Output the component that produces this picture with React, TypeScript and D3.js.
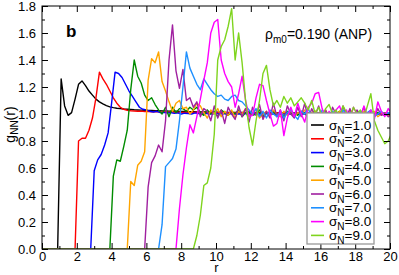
import React, { useEffect, useRef } from "react";
import * as d3 from "d3";

const WIDTH = 399;
const HEIGHT = 275;
const FONT = "'Liberation Sans', Arial, Helvetica, sans-serif";

// r grid step of the histograms, and the r where each curve leaves zero
const R_STEP = 0.2;
const SIGMA_LABELS = ["1.0", "2.0", "3.0", "4.0", "5.0", "6.0", "7.0", "8.0", "9.0"];
const SERIES_START = [0.9, 1.9, 2.8, 3.9, 4.9, 5.9, 6.7, 7.7, 8.7];
const COLORS = ["#000000", "#ff0000", "#0000ff", "#008c00", "#ffa500", "#a020a0", "#1e90ff", "#ff00ff", "#7fd41e"];

const G_S1 = [
  0, 1.26, 1.06, 0.99, 1.01, 1.11, 1.22, 1.245, 1.21, 1.17,
  1.14, 1.11, 1.09, 1.075, 1.062, 1.053, 1.047, 1.043, 1.04, 1.037,
  1.035, 1.033, 1.031, 1.03, 1.029, 1.028, 1.027, 1.026, 1.025, 1.024,
  1.023, 1.022, 1.021, 1.021, 1.02, 1.019, 1.019, 1.018, 1.017, 1.017,
  1.016, 1.016, 1.015, 1.015, 1.014, 1.014, 1.013, 1.013, 1.012, 1.012,
  1.012, 1.011, 1.011, 1.011, 1.01, 1.01, 1.01, 1.01, 1.009, 1.009,
  1.009, 1.009, 1.008, 1.008, 1.008, 1.008, 1.008, 1.007, 1.007, 1.007,
  1.007, 1.007, 1.007, 1.006, 1.006, 1.006, 1.006, 1.006, 1.006, 1.006,
  1.005, 1.005, 1.005, 1.005, 1.005, 1.005, 1.005, 1.005, 1.005, 1.005,
  1.005, 1.005, 1.005, 1.005, 1.005, 1.005, 1.005,
];
const G_S2 = [
  0, 0.8, 0.82, 0.82, 0.88, 0.97, 1.12, 1.31, 1.26, 1.22,
  1.17, 1.12, 1.08, 1.05, 1.035, 1.028, 1.024, 1.022, 1.02, 1.021,
  1.018, 1.019, 1.017, 1.018, 1.016, 1.015, 1.016, 1.014, 1.015, 1.013,
  1.014, 1.012, 1.013, 1.012, 1.011, 1.012, 1.011, 1.01, 1.011, 1.01,
  1.01, 1.009, 1.01, 1.009, 1.009, 1.008, 1.009, 1.008, 1.008, 1.009,
  1.007, 1.008, 1.007, 1.007, 1.008, 1.006, 1.007, 1.006, 1.007, 1.006,
  1.006, 1.005, 1.006, 1.005, 1.006, 1.005, 1.005, 1.006, 1.005, 1.004,
  1.005, 1.005, 1.004, 1.005, 1.004, 1.005, 1.004, 1.004, 1.005, 1.004,
  1.004, 1.004, 1.005, 1.004, 1.004, 1.003, 1.004, 1.004, 1.003, 1.004,
  1.004, 1.003,
];
const G_S3 = [
  0, 0.58, 0.66, 0.7, 0.77, 0.86, 1.08, 1.31, 1.3, 1.27,
  1.22, 1.17, 1.13, 1.09, 1.05, 1.035, 1.03, 1.02, 1.015, 1.02,
  1.01, 1.012, 1.008, 1.01, 1.005, 1.008, 1.0, 1.006, 1.004, 1.0,
  1.008, 1.003, 0.998, 1.005, 1.002, 1.0, 1.006, 0.999, 1.003, 1.0,
  1.004, 0.998, 1.002, 1.0, 1.005, 0.999, 1.001, 1.003, 0.998, 1.002,
  1.0, 1.004, 0.999, 1.001, 1.0, 0.997, 1.003, 1.0, 1.001, 0.998,
  1.002, 1.0, 1.003, 0.999, 1.0, 1.002, 0.998, 1.001, 1.0, 1.003,
  0.999, 1.0, 1.002, 0.998, 1.001, 1.0, 0.999, 1.002, 1.0, 1.001,
  0.998, 1.0, 1.002, 0.999, 1.001, 1.0, 1.0,
];
const G_S4 = [
  0, 0.54, 0.66, 0.65, 0.76, 0.88, 1.18, 1.4, 1.28, 1.23,
  1.14, 1.1, 1.12, 1.07, 1.03, 1.0, 1.05, 0.98, 1.05, 1.01,
  1.04, 1.04, 1.02, 1.05, 1.03, 1.05, 1.01, 0.99, 1.03, 1.0,
  1.02, 0.98, 1.03, 1.01, 0.99, 1.02, 1.0, 1.03, 0.98, 1.01,
  1.02, 0.99, 1.0, 1.03, 0.98, 1.01, 1.0, 1.02, 0.99, 1.01,
  0.98, 1.02, 1.0, 1.01, 0.99, 1.02, 1.0, 0.98, 1.01, 1.02,
  0.99, 1.0, 1.02, 0.98, 1.01, 1.0, 1.02, 0.99, 1.01, 1.0,
  0.98, 1.02, 1.01, 0.99, 1.0, 1.02, 0.99, 1.01, 1.0, 0.99,
  1.01, 1.0,
];
const G_S5 = [
  0, 0.5, 0.47, 0.62, 0.65, 0.72, 1.25, 1.41, 1.38, 1.46,
  1.24, 1.17, 1.09, 1.02, 1.08, 1.1, 1.04, 1.05, 1.0, 1.03,
  1.08, 1.06, 1.01, 0.97, 1.03, 1.0, 1.04, 0.98, 1.02, 0.99,
  1.03, 0.97, 1.02, 1.0, 1.04, 0.98, 1.01, 1.03, 0.97, 1.0,
  1.02, 0.98, 1.03, 1.0, 0.98, 1.02, 0.99, 1.03, 0.98, 1.01,
  1.0, 1.03, 0.97, 1.01, 1.02, 0.99, 1.0, 1.03, 0.98, 1.01,
  0.99, 1.02, 1.0, 0.98, 1.03, 1.0, 1.01, 0.98, 1.02, 0.99,
  1.01, 1.02, 0.98, 1.0, 1.01, 0.99, 1.0,
];
const G_S6 = [
  0, 0.46, 0.64, 0.69, 0.77, 0.72, 0.95, 1.4, 1.66, 1.32,
  1.19, 1.33, 1.1, 1.12, 1.05, 1.09, 0.98, 1.04, 1.02, 0.95,
  1.06, 0.97, 1.03, 0.93, 1.05, 1.0, 0.96, 1.06, 0.98, 1.04,
  0.94, 1.05, 0.99, 1.07, 0.96, 1.02, 0.97, 1.08, 0.98, 1.03,
  0.95, 1.06, 1.0, 0.97, 1.05, 0.98, 1.08, 0.96, 1.04, 0.99,
  1.06, 0.97, 1.03, 0.95, 1.05, 1.0, 0.97, 1.06, 0.98, 1.04,
  0.96, 1.03, 0.99, 1.05, 0.97, 1.02, 0.98, 1.04, 0.99, 1.01,
  0.98, 1.0,
];
const G_S7 = [
  0, 0.18, 0.61, 0.64, 0.67, 0.74, 0.95, 1.2, 1.46, 1.34,
  1.28, 1.22, 1.18, 1.26, 1.22, 1.18, 1.15, 1.13, 1.14, 1.11,
  1.1, 1.13, 1.14, 1.1, 1.09, 1.06, 1.03, 1.0, 1.04, 0.98,
  1.02, 0.97, 1.03, 1.0, 0.98, 1.02, 0.97, 1.01, 1.03, 0.99,
  0.96, 1.02, 1.0, 1.04, 0.98, 1.01, 0.97, 1.03, 1.0, 0.98,
  1.02, 1.0, 0.97, 1.03, 0.99, 1.01, 1.0, 0.98, 1.02, 0.99,
  1.01, 1.03, 0.98, 1.0, 1.02, 0.99, 1.01, 1.0,
];
const G_S8 = [
  0, 0.3, 0.55, 0.75, 0.92, 0.86, 0.98, 1.11, 1.25, 1.38,
  1.6, 1.68, 1.7, 1.4, 1.3, 1.24, 1.2, 1.05, 1.15, 1.28,
  1.1, 0.98, 0.99, 1.12, 1.22, 1.21, 1.1, 1.0, 0.91, 0.93,
  1.03, 0.84, 0.97, 1.05, 0.98, 1.08, 1.0, 0.94, 1.05, 1.08,
  1.15, 1.16, 1.04, 0.97, 1.02, 0.95, 1.03, 1.06, 0.98, 1.03,
  0.96, 1.05, 1.0, 0.97, 1.06, 0.99, 1.03, 0.96, 1.09, 1.02,
  0.98, 1.04, 1.0,
];
const G_S9 = [
  0, 0.1, 0.25, 0.47, 0.49, 0.6, 0.85, 1.4, 1.5, 1.55,
  1.65, 1.78, 1.4, 1.6, 1.38, 1.1, 0.9, 0.77, 0.95, 1.1,
  1.3, 1.36, 1.18, 1.06, 1.1, 1.05, 1.13, 1.08, 1.12, 1.06,
  1.09, 1.12, 1.08, 1.03, 1.1, 1.0, 1.05, 0.98, 1.04, 1.07,
  1.0, 1.03, 0.97, 1.06, 1.01, 0.98, 1.05, 1.0, 1.03, 0.97,
  1.06, 1.15, 0.95, 0.88, 0.83, 0.78, 0.8, 0.86,
];
const SERIES_VALUES = [G_S1, G_S2, G_S3, G_S4, G_S5, G_S6, G_S7, G_S8, G_S9];

const X_MAJOR = [0, 2, 4, 6, 8, 10, 12, 14, 16, 18, 20];
const X_MINOR = [1, 3, 5, 7, 9, 11, 13, 15, 17, 19];
const Y_MAJOR = [0, 0.2, 0.4, 0.6, 0.8, 1.0, 1.2, 1.4, 1.6, 1.8];
const Y_MINOR = [0.1, 0.3, 0.5, 0.7, 0.9, 1.1, 1.3, 1.5, 1.7];

const x = d3.scaleLinear().domain([0, 20]).range([42, 390]);
const y = d3.scaleLinear().domain([0, 1.8]).range([249, 6]);

function drawChart(node: SVGSVGElement) {
  const svg = d3.select(node);
  svg.selectAll("*").remove();

  const [x0, x1] = x.range();
  const [y0, y1] = y.range();

  svg.append("defs").append("clipPath").attr("id", "plot-clip")
    .append("rect")
    .attr("x", x0).attr("y", y1)
    .attr("width", x1 - x0).attr("height", y0 - y1);

  // curves
  const line = d3.line<[number, number]>()
    .x(d => x(d[0]))
    .y(d => y(d[1]));

  const curves = SERIES_VALUES.map((vals, k) => {
    const pts: [number, number][] = [[0, 0]];
    vals.forEach((v, i) => pts.push([SERIES_START[k] + i * R_STEP, v]));
    return pts;
  });

  svg.append("g")
    .attr("clip-path", "url(#plot-clip)")
    .selectAll("path")
    .data(curves)
    .join("path")
    .attr("d", d => line(d))
    .attr("fill", "none")
    .attr("stroke", (d, i) => COLORS[i])
    .attr("stroke-width", 1.4)
    .attr("stroke-linejoin", "round");

  // axes, ticks pointing inward on all sides
  const styleAxis = (g: any) => {
    g.select(".domain").remove();
    g.selectAll("line").attr("stroke", "#000").attr("stroke-width", 1);
    g.selectAll("text").attr("font-family", FONT).attr("font-size", 13).attr("fill", "#000");
  };

  svg.append("g").attr("transform", `translate(0,${y0})`)
    .call(d3.axisBottom(x).tickValues(X_MAJOR).tickSize(-6).tickPadding(3).tickFormat(d3.format("d")))
    .call(styleAxis);
  svg.append("g").attr("transform", `translate(0,${y0})`)
    .call(d3.axisBottom(x).tickValues(X_MINOR).tickSize(-3).tickFormat(() => ""))
    .call(styleAxis);
  svg.append("g").attr("transform", `translate(0,${y1})`)
    .call(d3.axisTop(x).tickValues(X_MAJOR).tickSize(-6).tickFormat(() => ""))
    .call(styleAxis);
  svg.append("g").attr("transform", `translate(0,${y1})`)
    .call(d3.axisTop(x).tickValues(X_MINOR).tickSize(-3).tickFormat(() => ""))
    .call(styleAxis);

  svg.append("g").attr("transform", `translate(${x0},0)`)
    .call(d3.axisLeft(y).tickValues(Y_MAJOR).tickSize(-6).tickPadding(6).tickFormat(d3.format(".1f")))
    .call(styleAxis);
  svg.append("g").attr("transform", `translate(${x0},0)`)
    .call(d3.axisLeft(y).tickValues(Y_MINOR).tickSize(-3).tickFormat(() => ""))
    .call(styleAxis);
  svg.append("g").attr("transform", `translate(${x1},0)`)
    .call(d3.axisRight(y).tickValues(Y_MAJOR).tickSize(-6).tickFormat(() => ""))
    .call(styleAxis);
  svg.append("g").attr("transform", `translate(${x1},0)`)
    .call(d3.axisRight(y).tickValues(Y_MINOR).tickSize(-3).tickFormat(() => ""))
    .call(styleAxis);

  // frame
  svg.append("rect")
    .attr("x", x0).attr("y", y1)
    .attr("width", x1 - x0).attr("height", y0 - y1)
    .attr("fill", "none").attr("stroke", "#000").attr("stroke-width", 1);

  // axis titles
  svg.append("text")
    .attr("x", (x0 + x1) / 2 + 0.5).attr("y", 272)
    .attr("text-anchor", "middle")
    .attr("font-family", FONT).attr("font-size", 13)
    .text("r");

  const yt = svg.append("text")
    .attr("transform", `translate(15,${(y0 + y1) / 2 - 3}) rotate(-90)`)
    .attr("text-anchor", "middle")
    .attr("font-family", FONT).attr("font-size", 14);
  yt.append("tspan").text("g");
  yt.append("tspan").attr("font-size", 10).attr("dy", 3).text("NN");
  yt.append("tspan").attr("dy", -3).text("(r)");

  // panel letter and condition
  svg.append("text")
    .attr("x", 66).attr("y", 37)
    .attr("font-family", FONT).attr("font-size", 17).attr("font-weight", "bold")
    .text("b");

  const cond = svg.append("text")
    .attr("x", 265).attr("y", 39)
    .attr("font-family", FONT).attr("font-size", 14);
  cond.append("tspan").text("ρ");
  cond.append("tspan").attr("font-size", 10).attr("dy", 4).text("m0");
  cond.append("tspan").attr("dy", -4).text("=0.190 (ANP)");

  // legend
  const lg = svg.append("g").attr("transform", "translate(307,113)");
  lg.append("rect")
    .attr("width", 67).attr("height", 131)
    .attr("fill", "#fff").attr("stroke", "#999").attr("stroke-width", 1.3);

  const rows = lg.selectAll("g.row")
    .data(SIGMA_LABELS)
    .join("g")
    .attr("class", "row")
    .attr("transform", (d, i) => `translate(0,${12 + i * 13.8})`);

  rows.append("line")
    .attr("x1", 4).attr("x2", 17)
    .attr("stroke", (d, i) => COLORS[i])
    .attr("stroke-width", 1.6);

  const lt = rows.append("text")
    .attr("x", 22).attr("y", 4.5)
    .attr("font-family", FONT).attr("font-size", 13.5);
  lt.append("tspan").text("σ");
  lt.append("tspan").attr("font-size", 10).attr("dy", 4).text("N");
  lt.append("tspan").attr("dy", -4).text(d => "=" + d);
}

export default function App() {
  const ref = useRef<SVGSVGElement>(null);

  useEffect(() => {
    if (ref.current) drawChart(ref.current);
  }, []);

  return (
    <svg
      ref={ref}
      width={WIDTH}
      height={HEIGHT}
      style={{ position: "absolute", left: 0, top: 0, background: "#fff" }}
    />
  );
}
